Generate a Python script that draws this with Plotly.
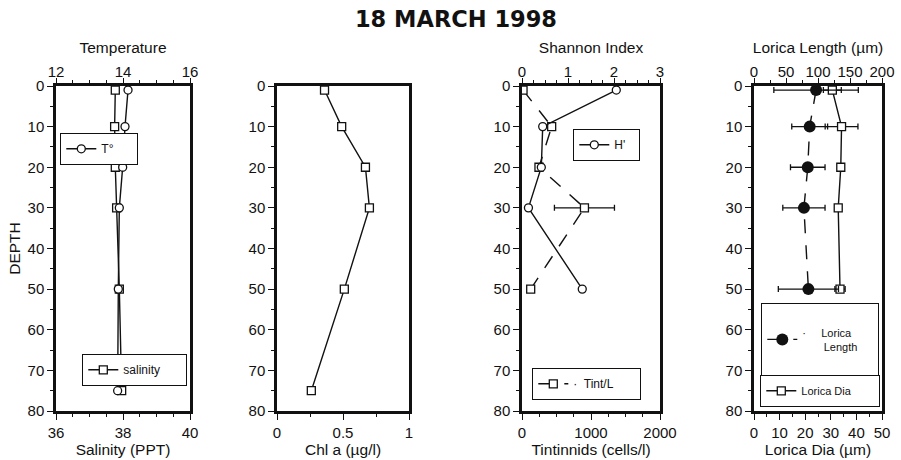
import plotly.graph_objects as go

# ---------------- data ----------------
depth_phys = [1, 10, 20, 30, 50, 75]
temperature = [14.15, 14.06, 13.99, 13.89, 13.86, 13.84]
salinity = [37.77, 37.75, 37.77, 37.81, 37.89, 37.96]

chl_a = [0.36, 0.49, 0.67, 0.70, 0.51, 0.26]

depth_bio = [1, 10, 20, 30, 50]
shannon = [2.05, 0.45, 0.42, 0.14, 1.31]
tintinnids = [15, 430, 246, 905, 126]
tintinnids_err = [0, 30, 40, 435, 25]

lorica_length = [97, 87, 84, 78, 85]
lorica_length_err = [66, 28, 27, 33, 47]
lorica_dia = [30.6, 34.2, 33.9, 32.9, 33.6]
lorica_dia_err = [3.5, 6.4, 1.0, 1.0, 2.0]

depth_ticks = [0, 10, 20, 30, 40, 50, 60, 70, 80]

# ---------------- layout helpers ----------------
W, H = 901, 460
FONT = "Liberation Sans, Arial, Helvetica, sans-serif"
BLACK = "#111111"


def px_x(a, b):
    return [a / W, b / W]


YDOM = [1 - 411 / H, 1 - 86 / H]
P1 = px_x(56, 190)
P2 = px_x(277, 409)
P3 = px_x(522, 660)
P4 = px_x(754, 882)


def xax(domain, rng, dtick, minor, title, side="bottom", anchor="y", overlay=None):
    top = side == "top"
    d = dict(
        range=rng, dtick=dtick, tick0=rng[0], side=side, anchor=anchor,
        showgrid=False, zeroline=False, automargin=False,
        showline=True, linecolor=BLACK, linewidth=2.5, mirror=True,
        ticks="outside", ticklen=5 if top else 6, tickwidth=1, tickcolor=BLACK,
        ticklabelstandoff=-5 if top else 0,
        tickfont=dict(family=FONT, size=15, color=BLACK),
        title=dict(text=title, font=dict(family=FONT, size=15.5, color=BLACK), standoff=6 if top else 3),
        minor=dict(dtick=minor, ticks="outside", ticklen=3, tickcolor=BLACK, tickwidth=1),
        fixedrange=True,
    )
    if overlay:
        d["overlaying"] = overlay
    else:
        d["domain"] = domain
    return d


def yax(anchor, title=None):
    return dict(
        domain=YDOM, range=[80, 0], tickvals=depth_ticks, anchor=anchor,
        showgrid=False, zeroline=False, automargin=False,
        showline=True, linecolor=BLACK, linewidth=2.5, mirror=True,
        ticks="outside", ticklen=6, tickwidth=1, tickcolor=BLACK,
        ticklabelstandoff=0,
        tickfont=dict(family=FONT, size=15, color=BLACK),
        title=dict(text=title or "", font=dict(family=FONT, size=15.5, color=BLACK), standoff=4),
        minor=dict(dtick=5, ticks="outside", ticklen=3, tickcolor=BLACK, tickwidth=1),
        fixedrange=True,
    )


open_circle = dict(symbol="circle", size=8, color="white", line=dict(color=BLACK, width=1.3))
open_square = dict(symbol="square", size=8, color="white", line=dict(color=BLACK, width=1.3))
filled_circle = dict(symbol="circle", size=12, color=BLACK, line=dict(color=BLACK, width=0))
LINE = dict(color=BLACK, width=1.4)
DASHED = dict(color=BLACK, width=1.4, dash="14px,12px")
ERR = dict(color=BLACK, thickness=1.3, width=3)

fig = go.Figure()

# Panel 1
fig.add_trace(go.Scatter(x=temperature, y=depth_phys, xaxis="x2", yaxis="y", mode="lines+markers",
                         name="T°", line=LINE, marker=open_circle, legend="legend"))
fig.add_trace(go.Scatter(x=salinity, y=depth_phys, xaxis="x", yaxis="y", mode="lines+markers",
                         name="salinity", line=LINE, marker=open_square, legend="legend2"))
# Panel 2
fig.add_trace(go.Scatter(x=chl_a, y=depth_phys, xaxis="x3", yaxis="y2", mode="lines+markers",
                         name="Chl a", line=LINE, marker=open_square, showlegend=False))
# Panel 3
fig.add_trace(go.Scatter(x=tintinnids, y=depth_bio, xaxis="x4", yaxis="y3", mode="lines+markers",
                         name="·  Tint/L", line=DASHED, marker=open_square,
                         error_x=dict(type="data", array=tintinnids_err, **ERR), legend="legend4"))
fig.add_trace(go.Scatter(x=shannon, y=depth_bio, xaxis="x5", yaxis="y3", mode="lines+markers",
                         name="H'", line=LINE, marker=open_circle, legend="legend3"))
# Panel 4
fig.add_trace(go.Scatter(x=lorica_dia, y=depth_bio, xaxis="x6", yaxis="y4", mode="lines+markers",
                         name="Lorica Dia", line=LINE, marker=open_square,
                         error_x=dict(type="data", array=lorica_dia_err, **ERR), legend="legend6"))
fig.add_trace(go.Scatter(x=lorica_length, y=depth_bio, xaxis="x7", yaxis="y4", mode="lines+markers",
                         name=" <br>·     Lorica<br>       Length<br> ", line=DASHED, marker=filled_circle,
                         error_x=dict(type="data", array=lorica_length_err, **ERR), legend="legend5"))


def legend(xp, yp, w, size=12):
    return dict(x=xp / W, y=1 - yp / H, xanchor="left", yanchor="top",
                orientation="h", entrywidth=w, entrywidthmode="pixels",
                bgcolor="white", bordercolor=BLACK, borderwidth=1.3,
                font=dict(family=FONT, size=size, color=BLACK), itemclick=False, itemdoubleclick=False)


fig.update_layout(
    template="none",
    width=W, height=H, autosize=False,
    margin=dict(l=0, r=0, t=0, b=0, pad=0),
    paper_bgcolor="white", plot_bgcolor="white",
    title=dict(text="<b>18 MARCH 1998</b>", x=456 / W, xanchor="center", y=1 - 19 / H, yanchor="middle",
               font=dict(family="DejaVu Sans, Arial, sans-serif", size=22.5, color=BLACK)),
    xaxis=xax(P1, [36, 40], 2, 0.5, "Salinity (PPT)", anchor="y"),
    xaxis2=xax(None, [12, 16], 2, 0.5, "Temperature", side="top", anchor="y", overlay="x"),
    yaxis=yax("x", "DEPTH"),
    xaxis3=xax(P2, [0, 1], 0.5, 0.25, "Chl a (µg/l)", anchor="y2"),
    yaxis2=yax("x3"),
    xaxis4=xax(P3, [0, 2000], 1000, 250, "Tintinnids (cells/l)", anchor="y3"),
    xaxis5=xax(None, [0, 3], 1, 0.25, "Shannon Index", side="top", anchor="y3", overlay="x4"),
    yaxis3=yax("x4"),
    xaxis6=xax(P4, [0, 50], 10, 5, "Lorica Dia (µm)", anchor="y4"),
    xaxis7=xax(None, [0, 200], 50, 25, "Lorica Length (µm)", side="top", anchor="y4", overlay="x6"),
    yaxis4=yax("x6"),
    legend=legend(60, 133, 30),
    legend2=legend(82, 354, 57),
    legend3=legend(573, 129, 19),
    legend4=legend(532, 368, 61),
    legend5=legend(761, 303, 70, 11),
    legend6=legend(760, 375, 72, 11),
)

fig.write_html("out.html")
